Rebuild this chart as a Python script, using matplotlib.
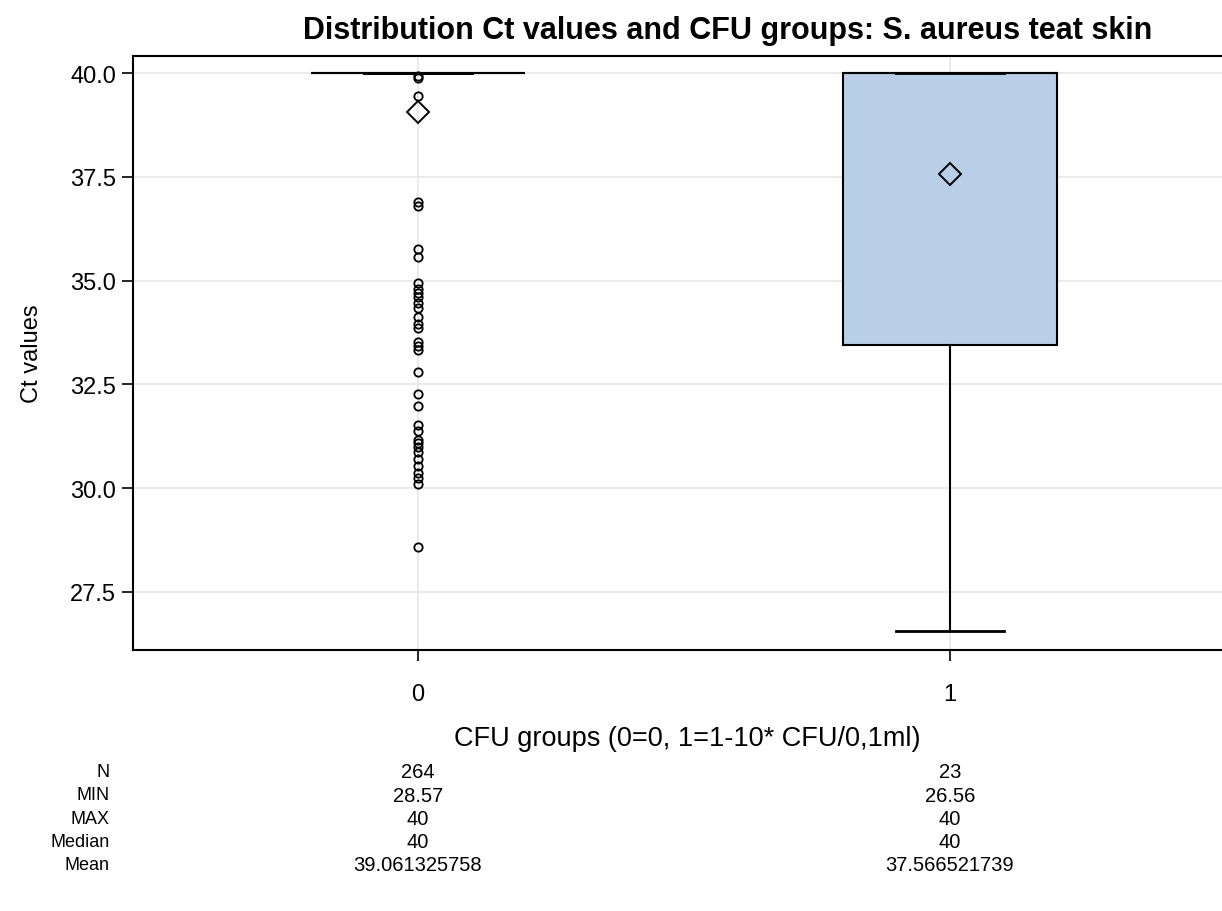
import matplotlib.pyplot as plt

plt.rcParams['font.family'] = ['Liberation Sans', 'DejaVu Sans']

# groups and box statistics
groups = ["0", "1"]
q1 = [40.0, 33.45]
q3 = [40.0, 40.0]
medians = [40.0, 40.0]
whislo = [40.0, 26.56]
whishi = [40.0, 40.0]
means = [39.061325758, 37.566521739]
outliers_0 = [39.93, 39.87, 39.45, 36.9, 36.8, 35.76, 35.57, 34.95, 34.8, 34.7,
              34.6, 34.46, 34.34, 34.12, 33.95, 33.86, 33.52, 33.42, 33.33, 32.8,
              32.27, 31.98, 31.52, 31.38, 31.16, 31.08, 30.99, 30.87, 30.7, 30.53,
              30.36, 30.24, 30.1, 28.57]
outliers_1 = []

# table under the plot
row_names = ["N", "MIN", "MAX", "Median", "Mean"]
row_0 = ["264", "28.57", "40", "40", "39.061325758"]
row_1 = ["23", "26.56", "40", "40", "37.566521739"]

stats = []
for i, g in enumerate(groups):
    stats.append({
        "label": g, "q1": q1[i], "q3": q3[i], "med": medians[i],
        "whislo": whislo[i], "whishi": whishi[i], "mean": means[i],
        "fliers": [outliers_0, outliers_1][i],
    })

fig = plt.figure(figsize=(12.22, 9.12), dpi=100)
ax = fig.add_axes([133/1222, 1 - 651/912, 1 - 133/1222, (651 - 57)/912])

ax.bxp(stats, positions=[0, 1], widths=0.402, capwidths=0.203,
       patch_artist=True, showmeans=True,
       boxprops=dict(facecolor="#B9CFE7", edgecolor="black", linewidth=1.5),
       medianprops=dict(color="black", linewidth=1.5),
       whiskerprops=dict(color="black", linewidth=1.5),
       capprops=dict(color="black", linewidth=2),
       flierprops=dict(marker="o", markerfacecolor="none", markeredgecolor="black",
                       markersize=6, markeredgewidth=1.3),
       meanprops=dict(marker="D", markerfacecolor="none", markeredgecolor="black",
                      markersize=11, markeredgewidth=1.4))

ax.set_xlim(-0.5357, 1.5113)
ax.set_ylim(26.10, 40.41)
ax.set_yticks([27.5, 30.0, 32.5, 35.0, 37.5, 40.0])
ax.set_yticklabels(["27.5", "30.0", "32.5", "35.0", "37.5", "40.0"])
ax.set_xticks([0, 1])
ax.set_xticklabels(groups)
ax.grid(True, color="#E6E6E6", linewidth=1.2)
ax.set_axisbelow(True)
ax.spines["right"].set_visible(False)
for s in ["left", "top", "bottom"]:
    ax.spines[s].set_linewidth(1.5)
ax.tick_params(axis="both", labelsize=17, length=8, width=1.2, pad=4)
ax.tick_params(axis="x", pad=16)

ax.set_ylabel("Ct values", fontsize=17, labelpad=20)

fig.text(728/1222, 1 - 31/912,
         "Distribution Ct values and CFU groups: S. aureus teat skin",
         ha="center", va="center", fontsize=22, fontweight="bold")

fig.text(687/1222, 1 - 739/912, "CFU groups (0=0, 1=1-10* CFU/0,1ml)",
         ha="center", va="center", fontsize=19.5)

ys = [773, 796, 820, 843, 866]
for i, name in enumerate(row_names):
    y = 1 - ys[i]/912
    fig.text(110/1222, y, name, ha="right", va="center", fontsize=13)
    fig.text(418/1222, y, row_0[i], ha="center", va="center", fontsize=14.5)
    fig.text(950/1222, y, row_1[i], ha="center", va="center", fontsize=14.5)

fig.savefig("out.png", dpi=100)
